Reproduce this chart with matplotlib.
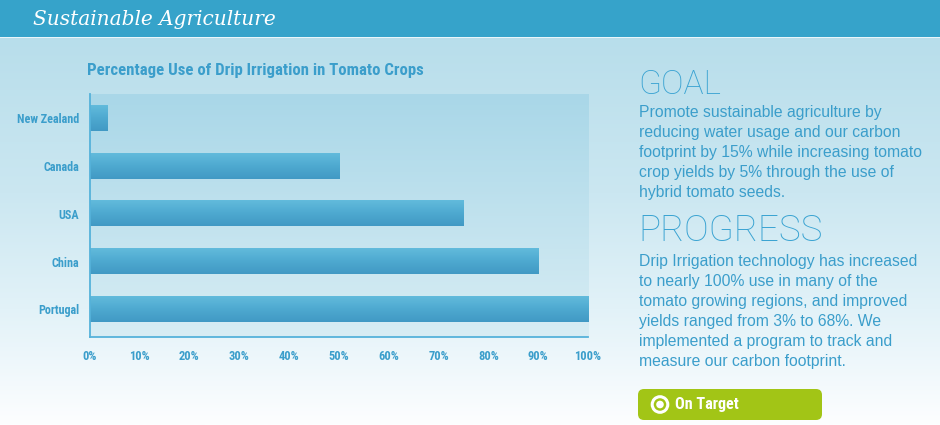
import numpy as np
import matplotlib
matplotlib.use("Agg")
import matplotlib.pyplot as plt
from matplotlib.colors import LinearSegmentedColormap
from matplotlib.patches import Rectangle, FancyBboxPatch, Circle

# ---- data ----
categories = ["New Zealand", "Canada", "USA", "China", "Portugal"]
values = [3.5, 50, 75, 90, 100]
xticks = [0, 10, 20, 30, 40, 50, 60, 70, 80, 90, 100]
xtick_labels = [f"{v}%" for v in xticks]
page_title = "Sustainable Agriculture"
chart_title = "Percentage Use of Drip Irrigation in Tomato Crops"
goal_head = "GOAL"
goal_lines = ["Promote sustainable agriculture by",
              "reducing water usage and our carbon",
              "footprint by 15% while increasing tomato",
              "crop yields by 5% through the use of",
              "hybrid tomato seeds."]
progress_head = "PROGRESS"
progress_lines = ["Drip Irrigation technology has increased",
                  "to nearly 100% use in many of the",
                  "tomato growing regions, and improved",
                  "yields ranged from 3% to 68%. We",
                  "implemented a program to track and",
                  "measure our carbon footprint."]
status = "On Target"

W, H = 940, 425
fig = plt.figure(figsize=(W / 100, H / 100), dpi=100)

NARROW = ["Roboto Condensed", "Liberation Sans Narrow", "DejaVu Sans"]
BODY = ["Liberation Sans", "DejaVu Sans"]
LIGHT = ["Roboto", "Open Sans", "DejaVu Sans"]
SERIF = ["DejaVu Serif", "Liberation Serif"]
TXT = "#3b9ecb"

# ---- background axes in pixel coordinates ----
bg = fig.add_axes([0, 0, 1, 1], zorder=0)
bg.set_xlim(0, W)
bg.set_ylim(H, 0)
bg.axis("off")
bg_cmap = LinearSegmentedColormap.from_list(
    "bg", [(0, "#b8deeb"), (0.4, "#cbe7f1"), (0.7, "#e2f2f8"), (1, "#fdfeff")])
grad = np.linspace(0, 1, 256).reshape(-1, 1)
bg.imshow(grad, cmap=bg_cmap, extent=(0, W, H, 38), aspect="auto", origin="upper", zorder=0)
bg.set_xlim(0, W)
bg.set_ylim(H, 0)
bg.add_patch(Rectangle((0, 0), W, 37, color="#36a3ca", zorder=1, lw=0))
bg.add_patch(Rectangle((0, 37), W, 1.3, color="#eaf6fa", zorder=1, lw=0))

renderer = fig.canvas.get_renderer()


def fit(t, width):
    bb = t.get_window_extent(renderer)
    t.set_fontsize(t.get_fontsize() * width / bb.width)
    return t.get_fontsize()


t = bg.text(33, 19.5, page_title, color="white", family=SERIF, style="italic",
            fontsize=16, va="center", ha="left", zorder=3)
fit(t, 243)

t = bg.text(87, 70, chart_title, color=TXT, family=NARROW, weight="bold",
            fontsize=11, va="center", ha="left", zorder=3)
fit(t, 333)

# right column
t = bg.text(638, 94, goal_head, color="#3aa3d2", family=LIGHT, weight="light",
            fontsize=24, va="baseline", ha="left", zorder=3)
fit(t, 83)
t = bg.text(638, 241, progress_head, color="#3aa3d2", family=LIGHT, weight="light",
            fontsize=24, va="baseline", ha="left", zorder=3)
fit(t, 184)

t = bg.text(639, 117, goal_lines[2], color=TXT, family=BODY, fontsize=12,
            va="baseline", ha="left", zorder=3)
body_fs = fit(t, 284)
t.remove()
for i, line in enumerate(goal_lines):
    bg.text(639, 117 + 20 * i, line, color=TXT, family=BODY, fontsize=body_fs,
            va="baseline", ha="left", zorder=3)
for i, line in enumerate(progress_lines):
    bg.text(639, 266 + 20 * i, line, color=TXT, family=BODY, fontsize=body_fs,
            va="baseline", ha="left", zorder=3)

# status button
bg.add_patch(FancyBboxPatch((642, 393), 176, 23, boxstyle="round,pad=4,rounding_size=6",
                            fc="#a2c516", ec="none", zorder=2))
bg.add_patch(Circle((660, 404.5), 7.8, fc="none", ec="white", lw=2.2, zorder=3))
bg.add_patch(Circle((660, 404.5), 3.8, fc="white", ec="none", zorder=3))
t = bg.text(675, 405, status, color="white", family=NARROW, weight="bold",
            fontsize=13, va="center", ha="left", zorder=3)
fit(t, 64)

# ---- chart axes ----
left, right, top, bottom = 89.5, 588, 94, 336.7
ax = fig.add_axes([left / W, 1 - bottom / H, (right - left) / W, (bottom - top) / H], zorder=1)
ax.set_facecolor("none")
ypos = np.arange(len(categories))[::-1]
bars = ax.barh(ypos, values, height=0.524, color="none", lw=0, zorder=2)

plot_cmap = LinearSegmentedColormap.from_list("pl", ["#d8edf4", "#a9d7e8"])
ax.imshow(grad, cmap=plot_cmap, extent=(0, 1, 0, 1), transform=ax.transAxes,
          aspect="auto", origin="lower", zorder=0)

bar_cmap = LinearSegmentedColormap.from_list("bar", ["#4199c4", "#4ea9d0", "#62bbdc"])
for b in bars:
    x0, y0 = b.get_x(), b.get_y()
    ax.imshow(grad, cmap=bar_cmap, extent=(x0, x0 + b.get_width(), y0, y0 + b.get_height()),
              aspect="auto", origin="lower", zorder=2, clip_path=b, clip_on=True)

ax.set_xlim(0, 100)
ax.set_ylim(-0.57, 4.513)
for s in ["top", "right"]:
    ax.spines[s].set_visible(False)
for s in ["left", "bottom"]:
    ax.spines[s].set_color("#55b2da")
    ax.spines[s].set_linewidth(1.3)
    ax.spines[s].set_zorder(3)

tmp = bg.text(0, 0, "New Zealand", family=NARROW, weight="bold", fontsize=9)
yfs = fit(tmp, 63)
tmp.remove()
tmp = bg.text(0, 0, "100%", family=NARROW, weight="bold", fontsize=9)
xfs = fit(tmp, 27)
tmp.remove()

ax.set_yticks(ypos)
ax.set_yticklabels(categories, family=NARROW, weight="bold", fontsize=yfs, color=TXT)
ax.set_xticks(xticks)
ax.set_xticklabels(xtick_labels, family=NARROW, weight="bold", fontsize=xfs, color=TXT)
ax.tick_params(axis="y", length=0, pad=7.5)
ax.tick_params(axis="x", length=0, pad=9.5)

fig.savefig("out.png", dpi=100)
